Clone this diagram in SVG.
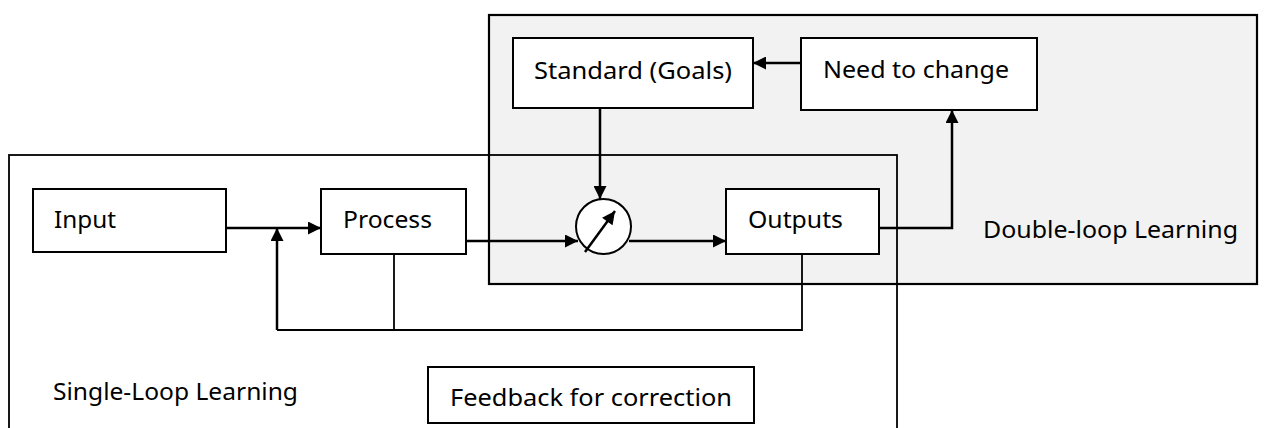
<svg xmlns="http://www.w3.org/2000/svg" width="1264" height="428" viewBox="0 0 1264 428">
<style>
  .box { fill: #ffffff; stroke: #000; stroke-width: 2; }
  .lbl { font-family: "Noto Sans", "Open Sans", sans-serif; font-size: 24px; fill: #000; }
  .arrow { fill: none; stroke: #000; stroke-width: 2.5; }
  .thin { fill: none; stroke: #000; stroke-width: 1.8; }
</style>
<defs>
  <marker id="ah" viewBox="0 0 10 10" refX="10" refY="5" markerWidth="14" markerHeight="13" markerUnits="userSpaceOnUse" orient="auto">
    <path d="M0,0 L10,5 L0,10 Z" fill="#000"/>
  </marker>
  <marker id="ahs" viewBox="0 0 10 10" refX="10" refY="5" markerWidth="14" markerHeight="13" markerUnits="userSpaceOnUse" orient="auto">
    <path d="M0,0 L10,5 L0,10 Z" fill="#000"/>
  </marker>
</defs>

<g id="double-loop">
  <rect x="489" y="15" width="768" height="269" fill="#f2f2f2" stroke="#000" stroke-width="2.2"/>
  <text class="lbl" x="983" y="238" textLength="255" lengthAdjust="spacingAndGlyphs">Double-loop Learning</text>
</g>

<g id="single-loop">
  <rect x="9" y="155" width="888" height="300" fill="none" stroke="#000" stroke-width="1.8"/>
  <text class="lbl" x="53" y="400" textLength="245" lengthAdjust="spacingAndGlyphs">Single-Loop Learning</text>
</g>

<g id="connectors">
  <line class="arrow" x1="226" y1="228" x2="321" y2="228" marker-end="url(#ah)"/>
  <line class="arrow" x1="466" y1="241" x2="578" y2="241" marker-end="url(#ah)"/>
  <line class="arrow" x1="600" y1="108" x2="600" y2="199" marker-end="url(#ah)"/>
  <line class="arrow" x1="629" y1="241" x2="726" y2="241" marker-end="url(#ah)"/>
  <polyline class="arrow" points="879,228 952,228 952,110" marker-end="url(#ah)"/>
  <line class="arrow" x1="801" y1="63" x2="753" y2="63" marker-end="url(#ah)"/>
  <polyline class="thin" points="802,254 802,330 277,330"/>
  <line class="thin" x1="394" y1="254" x2="394" y2="330"/>
  <line class="arrow" x1="277" y1="330" x2="277" y2="228" marker-end="url(#ah)"/>
</g>

<g id="input">
  <rect class="box" x="33" y="189" width="193" height="63"/>
  <text class="lbl" x="54" y="228" textLength="62" lengthAdjust="spacingAndGlyphs">Input</text>
</g>

<g id="process">
  <rect class="box" x="321" y="189" width="145" height="65"/>
  <text class="lbl" x="343" y="228" textLength="89" lengthAdjust="spacingAndGlyphs">Process</text>
</g>

<g id="comparator">
  <circle cx="603.5" cy="226.5" r="27.5" fill="#fff" stroke="#000" stroke-width="2"/>
  <line x1="585" y1="252" x2="615" y2="211" stroke="#000" stroke-width="2.5" marker-end="url(#ahs)"/>
</g>

<g id="outputs">
  <rect class="box" x="726" y="189" width="153" height="65"/>
  <text class="lbl" x="748" y="228" textLength="95" lengthAdjust="spacingAndGlyphs">Outputs</text>
</g>

<g id="standard">
  <rect class="box" x="513" y="38" width="240" height="70"/>
  <text class="lbl" x="534" y="79" textLength="198" lengthAdjust="spacingAndGlyphs">Standard (Goals)</text>
</g>

<g id="need-to-change">
  <rect class="box" x="801" y="38" width="236" height="72"/>
  <text class="lbl" x="823" y="78" textLength="186" lengthAdjust="spacingAndGlyphs">Need to change</text>
</g>

<g id="feedback">
  <rect class="box" x="428" y="367" width="326" height="56"/>
  <text class="lbl" x="450" y="406" textLength="282" lengthAdjust="spacingAndGlyphs">Feedback for correction</text>
</g>
</svg>
